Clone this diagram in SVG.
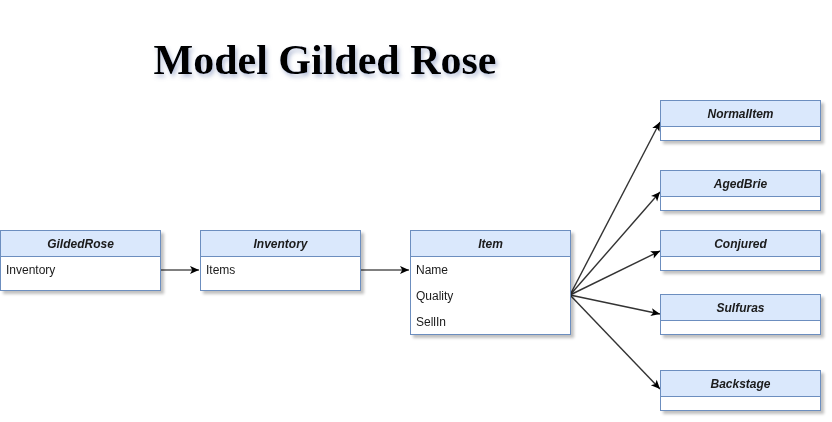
<svg xmlns="http://www.w3.org/2000/svg" width="832" height="422" viewBox="0 0 832 422">
<style>
.hd{fill:#dae8fc;stroke:#6c8ebf;stroke-width:1}
.bd{fill:#ffffff;stroke:#6c8ebf;stroke-width:1}
.ht{font-family:"Liberation Sans",Arial,sans-serif;font-size:12px;font-style:italic;font-weight:bold;fill:#1a1a1a;text-anchor:middle}
.at{font-family:"Liberation Sans",Arial,sans-serif;font-size:12px;fill:#1a1a1a}
.ln{fill:none;stroke:#000;stroke-width:1}
.fan{fill:none;stroke:#333;stroke-width:1.4}
.title{font-family:"Liberation Serif","Times New Roman",serif;font-size:42px;font-weight:bold;fill:#000;text-anchor:middle}
</style>
<defs>
<filter id="sh" x="-10%" y="-10%" width="130%" height="140%">
<feGaussianBlur in="SourceAlpha" stdDeviation="1.5"/>
<feOffset dx="3" dy="3" result="b"/>
<feComponentTransfer><feFuncA type="linear" slope="0.25"/></feComponentTransfer>
<feMerge><feMergeNode/><feMergeNode in="SourceGraphic"/></feMerge>
</filter>
<filter id="tsh" x="-10%" y="-20%" width="120%" height="160%">
<feGaussianBlur in="SourceAlpha" stdDeviation="2"/>
<feOffset dx="2" dy="3" result="b"/>
<feFlood flood-color="#6c7fb0" flood-opacity="0.5"/>
<feComposite in2="b" operator="in"/>
<feMerge><feMergeNode/><feMergeNode in="SourceGraphic"/></feMerge>
</filter>
<marker id="arr" viewBox="0 0 10 10" refX="10" refY="5" markerWidth="10" markerHeight="9" markerUnits="userSpaceOnUse" orient="auto">
<path d="M0,0.5 L10,5 L0,9.5 L2.5,5 Z" fill="#000"/>
</marker>
</defs>
<rect width="832" height="422" fill="#ffffff"/>
<text class="title" x="325" y="74" filter="url(#tsh)">Model Gilded Rose</text>

<g id="connectors">
<line class="ln" x1="160" y1="270" x2="199" y2="270" marker-end="url(#arr)"/>
<line class="ln" x1="360" y1="270" x2="409" y2="270" marker-end="url(#arr)"/>
<line class="fan" x1="570" y1="295" x2="660" y2="122" marker-end="url(#arr)"/>
<line class="fan" x1="570" y1="295" x2="660" y2="192" marker-end="url(#arr)"/>
<line class="fan" x1="570" y1="295" x2="660" y2="251" marker-end="url(#arr)"/>
<line class="fan" x1="570" y1="295" x2="660" y2="314" marker-end="url(#arr)"/>
<line class="fan" x1="570" y1="295" x2="660" y2="389" marker-end="url(#arr)"/>
</g>

<g id="GildedRose" filter="url(#sh)">
<rect class="bd" x="0.5" y="230.5" width="160" height="60"/>
<rect class="hd" x="0.5" y="230.5" width="160" height="26"/>
<text class="ht" x="80.5" y="248">GildedRose</text>
<text class="at" x="6" y="274">Inventory</text>
</g>

<g id="Inventory" filter="url(#sh)">
<rect class="bd" x="200.5" y="230.5" width="160" height="60"/>
<rect class="hd" x="200.5" y="230.5" width="160" height="26"/>
<text class="ht" x="280.5" y="248">Inventory</text>
<text class="at" x="206" y="274">Items</text>
</g>

<g id="Item" filter="url(#sh)">
<rect class="bd" x="410.5" y="230.5" width="160" height="104"/>
<rect class="hd" x="410.5" y="230.5" width="160" height="26"/>
<text class="ht" x="490.5" y="248">Item</text>
<text class="at" x="416" y="274">Name</text>
<text class="at" x="416" y="300">Quality</text>
<text class="at" x="416" y="326">SellIn</text>
</g>

<g id="NormalItem" filter="url(#sh)">
<rect class="bd" x="660.5" y="100.5" width="160" height="40"/>
<rect class="hd" x="660.5" y="100.5" width="160" height="26"/>
<text class="ht" x="740.5" y="118">NormalItem</text>
</g>

<g id="AgedBrie" filter="url(#sh)">
<rect class="bd" x="660.5" y="170.5" width="160" height="40"/>
<rect class="hd" x="660.5" y="170.5" width="160" height="26"/>
<text class="ht" x="740.5" y="188">AgedBrie</text>
</g>

<g id="Conjured" filter="url(#sh)">
<rect class="bd" x="660.5" y="230.5" width="160" height="40"/>
<rect class="hd" x="660.5" y="230.5" width="160" height="26"/>
<text class="ht" x="740.5" y="248">Conjured</text>
</g>

<g id="Sulfuras" filter="url(#sh)">
<rect class="bd" x="660.5" y="294.5" width="160" height="40"/>
<rect class="hd" x="660.5" y="294.5" width="160" height="26"/>
<text class="ht" x="740.5" y="312">Sulfuras</text>
</g>

<g id="Backstage" filter="url(#sh)">
<rect class="bd" x="660.5" y="370.5" width="160" height="40"/>
<rect class="hd" x="660.5" y="370.5" width="160" height="26"/>
<text class="ht" x="740.5" y="388">Backstage</text>
</g>
</svg>
